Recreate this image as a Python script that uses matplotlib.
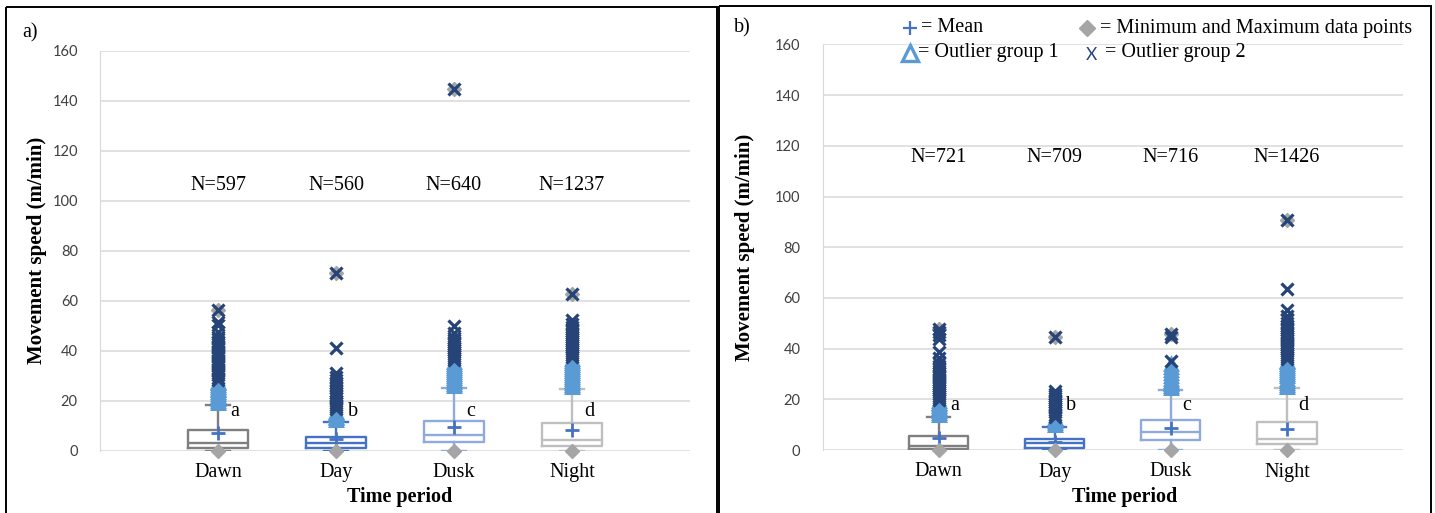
import matplotlib
matplotlib.use("Agg")
import matplotlib.pyplot as plt
from matplotlib.patches import Rectangle

# pixel canvas
W, H = 1435, 513
SERIF = ["Liberation Serif", "DejaVu Serif"]
NUMF = ["Lato", "DejaVu Sans"]

periods = ["Dawn", "Day", "Dusk", "Night"]

# ---- panel a) ----
a_n = [597, 560, 640, 1237]
a_min = [0, 0, 0, 0]
a_q1 = [1.2, 1.2, 3.4, 2.0]
a_median = [2.9, 3.2, 6.3, 4.3]
a_q3 = [8.3, 5.4, 11.9, 11.0]
a_whisk = [18.3, 11.4, 25.0, 24.5]
a_mean = [7.0, 4.5, 9.4, 8.3]
a_max = [56.3, 71.2, 144.6, 62.6]
a_out1 = [
    [19.2, 19.9, 20.6, 21.3, 22.0, 22.7, 23.4, 24.1, 24.8, 25.5, 26.2, 26.9, 27.5],
    [12.2, 12.9, 13.6, 14.3, 15.0, 15.6],
    [26.0, 26.8, 27.6, 28.4, 29.2, 30.0, 30.8, 31.6, 32.4, 33.2, 34.0, 34.8, 35.4],
    [25.6, 26.4, 27.2, 28.0, 28.8, 29.6, 30.4, 31.2, 32.0, 32.8, 33.6, 34.4, 35.2, 36.0, 36.6],
]
a_out2 = [
    [28.3, 29.2, 30.1, 31.0, 31.9, 32.8, 33.7, 34.6, 35.5, 36.4, 37.3, 38.2, 39.1, 40.0, 40.9,
     41.8, 42.7, 43.6, 44.5, 45.6, 47.6, 50.3, 51.6, 56.3],
    [16.6, 17.4, 18.2, 19.1, 20.0, 21.0, 22.0, 23.0, 24.0, 25.0, 26.1, 27.2, 28.3, 29.5, 31.0,
     41.0, 71.2],
    [36.2, 37.0, 37.8, 38.6, 39.4, 40.2, 41.0, 41.8, 42.6, 43.4, 44.2, 45.0, 47.0, 50.0, 144.6],
    [37.4, 38.2, 39.0, 39.8, 40.6, 41.4, 42.2, 43.0, 43.8, 44.6, 45.4, 46.2, 47.0, 47.8, 48.6,
     49.5, 50.5, 52.3, 62.6],
]

# ---- panel b) ----
b_n = [721, 709, 716, 1426]
b_min = [0, 0, 0, 0]
b_q1 = [0.4, 0.9, 3.9, 2.2]
b_median = [1.7, 2.6, 7.2, 4.3]
b_q3 = [5.6, 4.2, 11.8, 10.9]
b_whisk = [13.1, 9.2, 23.7, 24.3]
b_mean = [4.6, 3.3, 8.8, 8.3]
b_max = [47.8, 44.4, 45.8, 90.7]
b_out1 = [
    [13.8, 14.5, 15.2, 15.9, 16.6, 17.3, 18.0, 18.6, 19.2],
    [10.0, 10.7, 11.4, 12.0, 12.6],
    [24.5, 25.2, 25.9, 26.6, 27.3, 28.2, 29.2, 30.4, 31.6, 32.8, 34.0],
    [25.0, 25.8, 26.6, 27.4, 28.2, 29.0, 29.8, 30.6, 31.4, 32.2, 33.0, 33.8, 34.6, 35.2],
]
b_out2 = [
    [19.8, 20.6, 21.4, 22.2, 23.0, 23.8, 24.6, 25.4, 26.2, 27.0, 27.8, 28.6, 29.4, 30.2, 31.0,
     32.0, 33.0, 34.5, 36.2, 38.8, 43.8, 45.2, 46.6, 47.8],
    [13.2, 14.0, 14.8, 15.6, 16.4, 17.2, 18.0, 18.8, 19.6, 20.4, 21.2, 22.2, 23.3, 44.4],
    [35.2, 44.5, 45.8],
    [36.0, 36.8, 37.6, 38.4, 39.2, 40.0, 40.8, 41.6, 42.4, 43.2, 44.0, 44.8, 45.6, 46.4, 47.2,
     48.0, 49.0, 50.0, 51.5, 53.0, 55.2, 63.4, 90.7],
]

yticks = [0, 20, 40, 60, 80, 100, 120, 140, 160]
letters = ["a", "b", "c", "d"]

box_colors = ["#7f7f7f", "#4472c4", "#8faadc", "#bfbfbf"]
MEAN_C, MINMAX_C, OUT1_C, OUT2_C = "#4472c4", "#a5a5a5", "#5b9bd5", "#264478"
GRID_C = "#d9d9d9"

fig = plt.figure(figsize=(W / 100, H / 100), dpi=100)

# overlay in pixel coords for panel frames + legend
ov = fig.add_axes([0, 0, 1, 1], zorder=5)
ov.set_xlim(0, W); ov.set_ylim(H, 0); ov.axis("off"); ov.patch.set_alpha(0)
ov.add_patch(Rectangle((6, 7), 711, 510, fill=False, ec="black", lw=1.4))
ov.add_patch(Rectangle((719, 6), 712, 510, fill=False, ec="black", lw=1.4))
ov.text(22, 33, "a)", family=SERIF, fontsize=14.5, va="center")
ov.text(734, 28, "b)", family=SERIF, fontsize=14.5, va="center")
# legend (panel b)
ov.plot(910, 28, marker="+", color=MEAN_C, ms=10, mew=1.6)
ov.text(921, 28, "= Mean", family=SERIF, fontsize=14.5, va="center")
ov.plot(1087, 28, marker="D", color=MINMAX_C, ms=8, mec=MINMAX_C)
ov.text(1100, 28, "= Minimum and Maximum data points", family=SERIF, fontsize=14.5, va="center")
ov.plot(910, 53, marker="^", mfc="none", mec=OUT1_C, ms=11, mew=2.4)
ov.text(918, 53, "= Outlier group 1", family=SERIF, fontsize=14.5, va="center")
ov.text(1091, 55, "X", family=NUMF, fontsize=12.5, color=OUT2_C, ha="center", va="center")
ov.text(1105, 53, "= Outlier group 2", family=SERIF, fontsize=14.5, va="center")


def panel(rect, n, vmin, q1, med, q3, whisk, mean, vmax, out1, out2, n_y, let_y):
    ax = fig.add_axes(rect)
    pos = list(range(len(periods)))
    stats = [dict(whislo=vmin[i], q1=q1[i], med=med[i], q3=q3[i], whishi=whisk[i],
                  mean=mean[i], fliers=[]) for i in pos]
    art = ax.bxp(stats, positions=pos, widths=0.51, capwidths=0.2, showmeans=True,
                 showfliers=False, manage_ticks=False,
                 meanprops=dict(marker="+", markeredgecolor=MEAN_C, ms=10, mew=2),
                 boxprops=dict(lw=1.7), whiskerprops=dict(lw=1.7), capprops=dict(lw=1.7),
                 medianprops=dict(lw=1.7))
    for i, c in enumerate(box_colors):
        art["boxes"][i].set_color(c)
        art["medians"][i].set_color(c)
        for k in (2 * i, 2 * i + 1):
            art["whiskers"][k].set_color(c)
            art["caps"][k].set_color(c)
    for a in ("boxes", "medians", "whiskers", "caps", "means"):
        for l in art[a]:
            l.set_zorder(3)
    for i in pos:
        ax.plot([i, i], [vmin[i], vmax[i]], ls="none", marker="D", ms=7.5, color=MINMAX_C,
                clip_on=False, zorder=4)
        ax.plot([i] * len(out1[i]), out1[i], ls="none", marker="^", mfc="none", mec=OUT1_C,
                ms=9, mew=2.2, zorder=5)
        ax.plot([i] * len(out2[i]), out2[i], ls="none", marker="x", color=OUT2_C,
                ms=9, mew=2.3, zorder=6)
        ax.text(i, n_y, f"N={n[i]}", family=SERIF, fontsize=14.5, ha="center", va="center")
        ax.text(i + 0.1, let_y, letters[i], family=SERIF, fontsize=14.5, ha="left", va="center")
    ax.set_xlim(-1, 4)
    ax.set_ylim(0, 160)
    ax.set_yticks(yticks)
    ax.set_xticks(pos)
    ax.set_xticklabels(periods, family=SERIF, fontsize=14.5)
    for t in ax.get_yticklabels():
        t.set_family(NUMF); t.set_fontsize(10.5); t.set_color("#404040")
    ax.tick_params(axis="both", length=0)
    ax.tick_params(axis="y", pad=16)
    ax.tick_params(axis="x", pad=9)
    ax.grid(axis="y", color=GRID_C, lw=1.1)
    ax.set_axisbelow(True)
    for s in ("top", "right", "bottom"):
        ax.spines[s].set_visible(False)
    ax.spines["left"].set_color(GRID_C)
    return ax


panel([100 / W, 62.3 / H, 590 / W, 400 / H], a_n, a_min, a_q1, a_median, a_q3, a_whisk,
      a_mean, a_max, a_out1, a_out2, 106, 15.5)
panel([822.7 / W, 63 / H, 580.3 / W, 405.6 / H], b_n, b_min, b_q1, b_median, b_q3, b_whisk,
      b_mean, b_max, b_out1, b_out2, 115.5, 17.7)

for x, y in ((37, 250), (745, 247)):
    fig.text(x / W, 1 - y / H, "Movement speed (m/min)", family=SERIF, fontsize=15,
             weight="bold", rotation=90, ha="center", va="center")
for x, y in ((400, 497), (1125, 497)):
    fig.text(x / W, 1 - y / H, "Time period", family=SERIF, fontsize=14.5, weight="bold",
             ha="center", va="center")

fig.savefig("out.png", dpi=100)
